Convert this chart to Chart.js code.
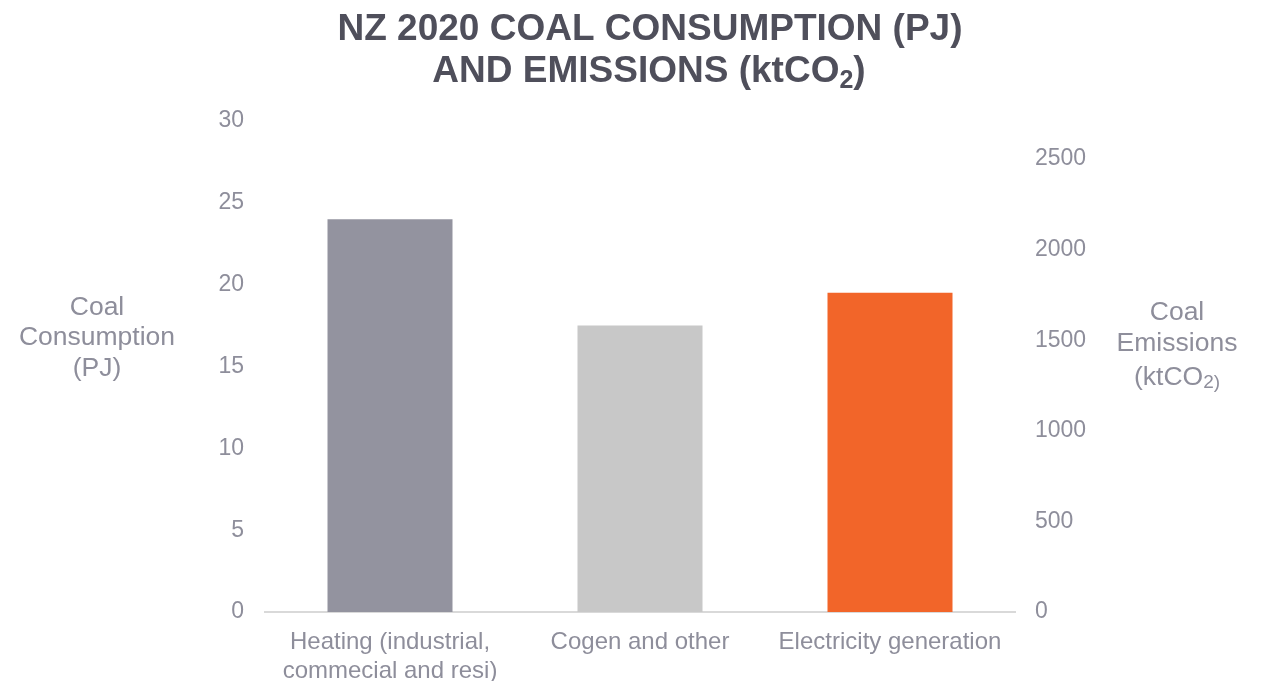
<!DOCTYPE html>
<html>
<head>
<meta charset="utf-8">
<script src="https://cdn.jsdelivr.net/npm/chart.js@4"></script>
<style>
  html, body { margin: 0; padding: 0; background: #fff; }
  #wrap { width: 1263px; height: 681px; }
</style>
</head>
<body>
<div id="wrap"><canvas id="coalChart" width="1263" height="681"></canvas></div>
<script>
// data
const categories = [["Heating (industrial,", "commecial and resi)"], "Cogen and other", "Electricity generation"];
const consumptionPJ = [24, 17.5, 19.5];
const barColors = ["#93939f", "#c8c8c8", "#f26529"];
const emissionTicks = [0, 500, 1000, 1500, 2000, 2500];
const emissionMax = 2710;

const titleLine1 = "NZ 2020 COAL CONSUMPTION (PJ)";
const titleLine2 = ["AND EMISSIONS (ktCO", "2", ")"];
const leftTitle = ["Coal", "Consumption", "(PJ)"];
const rightTitle = ["Coal", "Emissions", ["(ktCO", "2)"]];

const FONT = "'Liberation Sans', Arial, sans-serif";
const textGrey = "#8e8e9b";
const titleGrey = "#4f4f5b";

// draws a row of text pieces centred on cx; each piece can be shifted down (sub)
function drawRuns(ctx, runs, cx, y) {
  let total = 0;
  runs.forEach(r => { ctx.font = r.font; r.w = ctx.measureText(r.text).width; total += r.w; });
  let x = cx - total / 2;
  ctx.textAlign = 'left';
  runs.forEach(r => {
    ctx.font = r.font;
    ctx.fillText(r.text, x, y + (r.dy || 0));
    x += r.w;
  });
}

const textPlugin = {
  id: 'textPlugin',
  afterDraw(chart) {
    const ctx = chart.ctx;
    ctx.save();
    // main title
    ctx.fillStyle = titleGrey;
    ctx.textBaseline = 'alphabetic';
    drawRuns(ctx, [{ text: titleLine1, font: "bold 37px " + FONT }], 650, 40);
    drawRuns(ctx, [
      { text: titleLine2[0], font: "bold 37px " + FONT },
      { text: titleLine2[1], font: "bold 25px " + FONT, dy: 6 },
      { text: titleLine2[2], font: "bold 37px " + FONT }
    ], 649, 82);

    // axis titles, horizontal
    ctx.fillStyle = textGrey;
    ctx.textBaseline = 'middle';
    const f = "26.5px " + FONT;
    drawRuns(ctx, [{ text: leftTitle[0], font: f }], 97, 308);
    drawRuns(ctx, [{ text: leftTitle[1], font: f }], 97, 338);
    drawRuns(ctx, [{ text: leftTitle[2], font: f }], 97, 369);

    drawRuns(ctx, [{ text: rightTitle[0], font: f }], 1177, 313);
    drawRuns(ctx, [{ text: rightTitle[1], font: f }], 1177, 344);
    drawRuns(ctx, [
      { text: rightTitle[2][0], font: f },
      { text: rightTitle[2][1], font: "19px " + FONT, dy: 5 }
    ], 1177, 378);
    ctx.restore();
  }
};

new Chart(document.getElementById('coalChart'), {
  type: 'bar',
  data: {
    labels: categories,
    datasets: [{
      label: 'Coal consumption (PJ)',
      data: consumptionPJ,
      backgroundColor: barColors,
      borderWidth: 0,
      barPercentage: 0.5,
      categoryPercentage: 1.0,
      yAxisID: 'y'
    }]
  },
  options: {
    responsive: false,
    animation: false,
    layout: { padding: { top: 121, bottom: 0, left: 0, right: 0 } },
    plugins: {
      legend: { display: false },
      title: { display: false },
      tooltip: { enabled: false }
    },
    scales: {
      x: {
        grid: { display: false, drawTicks: false },
        border: { display: true, color: '#d9d9d9', width: 2 },
        ticks: {
          color: textGrey,
          font: { family: FONT, size: 24 },
          padding: 16,
          maxRotation: 0,
          autoSkip: false
        },
        afterFit(scale) { scale.height = 69; }
      },
      y: {
        position: 'left',
        min: 0,
        max: 30,
        grid: { display: false, drawTicks: false },
        border: { display: false },
        ticks: {
          stepSize: 5,
          color: textGrey,
          font: { family: FONT, size: 23 },
          padding: 21
        },
        afterFit(scale) { scale.width = 265; }
      },
      y1: {
        type: 'linear',
        position: 'right',
        min: 0,
        max: emissionMax,
        grid: { display: false, drawTicks: false },
        border: { display: false },
        ticks: {
          autoSkip: false,
          color: textGrey,
          font: { family: FONT, size: 23 },
          padding: 20,
          callback: (value) => String(value)
        },
        afterBuildTicks(scale) {
          scale.ticks = emissionTicks.map(v => ({ value: v }));
        },
        afterFit(scale) { scale.width = 248; }
      }
    }
  },
  plugins: [textPlugin]
});
</script>
</body>
</html>
